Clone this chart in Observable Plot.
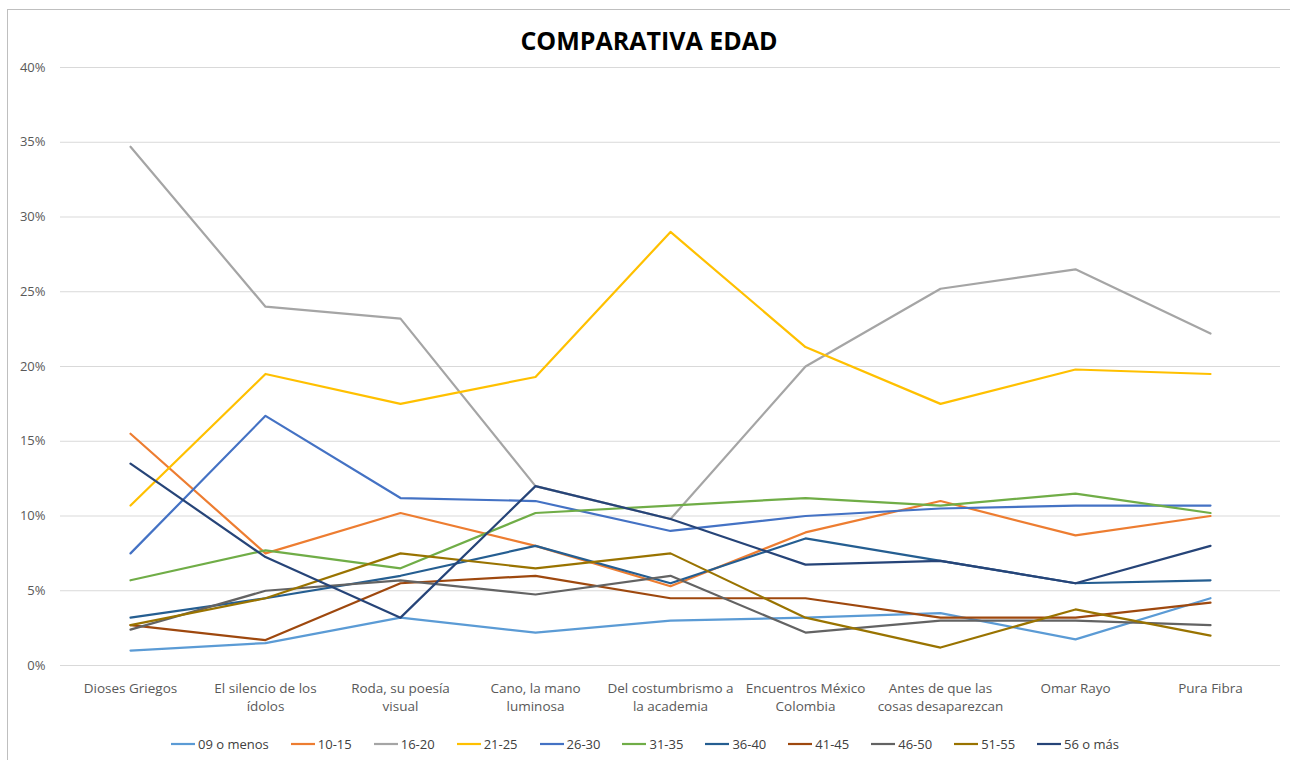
<!DOCTYPE html>
<html>
<head>
<meta charset="utf-8">
<script src="https://cdn.jsdelivr.net/npm/d3@7"></script>
<script src="https://cdn.jsdelivr.net/npm/@observablehq/plot@0.6"></script>
<style>
  html, body { margin: 0; padding: 0; background: #fff; }
  body { width: 1290px; height: 760px; position: relative; overflow: hidden;
         font-family: "Open Sans", sans-serif; }
  #frame { position: absolute; left: 7px; top: 9px; width: 1290px; height: 760px;
           border: 1px solid #bfbfbf; box-sizing: border-box; }
  #title { position: absolute; left: 0; width: 1298px; top: 23px; text-align: center;
           font-weight: bold; font-size: 25px; color: #000; }
  #chart { position: absolute; left: 0; top: 0; }
  #legend { position: absolute; left: 0; width: 1290px; top: 735px; display: flex;
            justify-content: center; align-items: center; gap: 0; font-size: 13px; color: #404040; }
  .item { display: flex; align-items: center; margin: 0 11px; }
  .item svg { margin-right: 3px; }
</style>
</head>
<body>
<div id="frame"></div>
<div id="title">COMPARATIVA EDAD</div>
<div id="chart"></div>
<div id="legend"></div>
<script>
const categories = [
  "Dioses Griegos",
  "El silencio de los\nídolos",
  "Roda, su poesía\nvisual",
  "Cano, la mano\nluminosa",
  "Del costumbrismo a\nla academia",
  "Encuentros México\nColombia",
  "Antes de que las\ncosas desaparezcan",
  "Omar Rayo",
  "Pura Fibra"
];
const seriesNames = ["09 o menos","10-15","16-20","21-25","26-30","31-35","36-40","41-45","46-50","51-55","56 o más"];
const seriesColors = ["#5B9BD5","#ED7D31","#A5A5A5","#FFC000","#4472C4","#70AD47","#255E91","#9E480E","#636363","#997300","#264478"];

const s09 = [1.0, 1.5, 3.2, 2.2, 3.0, 3.2, 3.5, 1.75, 4.5];
const s10 = [15.5, 7.5, 10.2, 8.0, 5.3, 8.9, 11.0, 8.7, 10.0];
const s16 = [34.7, 24.0, 23.2, 12.0, 9.8, 20.0, 25.2, 26.5, 22.2];
const s21 = [10.7, 19.5, 17.5, 19.3, 29.0, 21.3, 17.5, 19.8, 19.5];
const s26 = [7.5, 16.7, 11.2, 11.0, 9.0, 10.0, 10.5, 10.7, 10.7];
const s31 = [5.7, 7.7, 6.5, 10.2, 10.7, 11.2, 10.7, 11.5, 10.2];
const s36 = [3.2, 4.5, 6.0, 8.0, 5.5, 8.5, 7.0, 5.5, 5.7];
const s41 = [2.7, 1.7, 5.5, 6.0, 4.5, 4.5, 3.2, 3.2, 4.2];
const s46 = [2.4, 5.0, 5.7, 4.75, 6.0, 2.2, 3.0, 3.0, 2.7];
const s51 = [2.7, 4.5, 7.5, 6.5, 7.5, 3.2, 1.2, 3.75, 2.0];
const s56 = [13.5, 7.25, 3.2, 12.0, 9.8, 6.75, 7.0, 5.5, 8.0];
const yTicks = [0, 5, 10, 15, 20, 25, 30, 35, 40];

const allSeries = [s09, s10, s16, s21, s26, s31, s36, s41, s46, s51, s56];
const rows = [];
allSeries.forEach((vals, i) => {
  vals.forEach((v, j) => rows.push({serie: seriesNames[i], cat: categories[j], value: v}));
});

const plot = Plot.plot({
  width: 1290,
  height: 720,
  marginLeft: 60,
  marginRight: 10,
  marginTop: 67,
  marginBottom: 55,
  style: {fontFamily: '"Open Sans", sans-serif', fontSize: "13px", color: "#595959", background: "transparent"},
  x: {domain: categories, type: "point", padding: 0.5, label: null},
  y: {domain: [0, 40], label: null},
  color: {domain: seriesNames, range: seriesColors},
  marks: [
    Plot.ruleY(yTicks, {stroke: "#d9d9d9", strokeWidth: 1}),
    Plot.axisY(yTicks, {tickSize: 0, tickPadding: 15, tickFormat: d => d + "%", fontSize: 13, fill: "#595959"}),
    Plot.axisX({tickSize: 0, tickPadding: 15, fontSize: 13.5, fill: "#595959", lineHeight: 1.3}),
    Plot.line(rows, {x: "cat", y: "value", z: "serie", stroke: "serie", strokeWidth: 2.2, curve: "linear"})
  ]
});
document.getElementById("chart").appendChild(plot);

const legend = document.getElementById("legend");
seriesNames.forEach((n, i) => {
  const it = document.createElement("div");
  it.className = "item";
  it.innerHTML = `<svg width="24" height="10"><line x1="0" x2="24" y1="5" y2="5" stroke="${seriesColors[i]}" stroke-width="2.2"/></svg><span>${n}</span>`;
  legend.appendChild(it);
});
</script>
</body>
</html>
